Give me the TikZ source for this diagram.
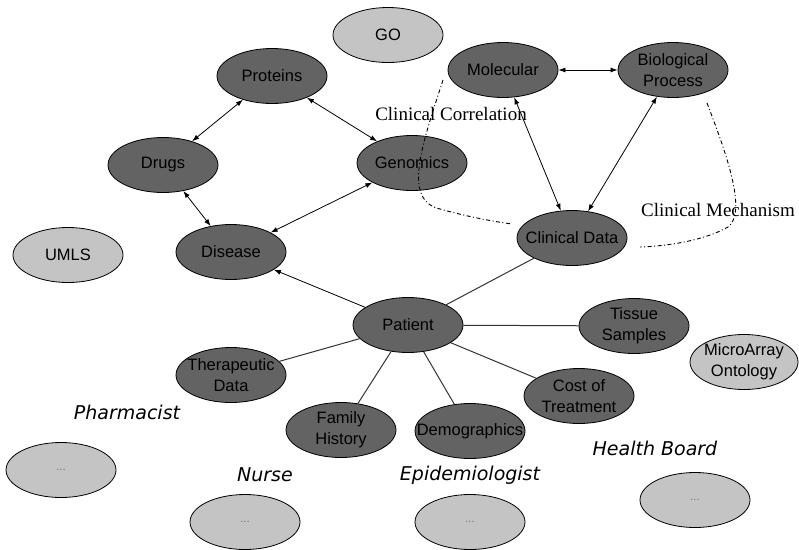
\documentclass[tikz,border=0pt]{standalone}
\usepackage{fontspec}
\setmainfont{Liberation Serif}
\newfontfamily\nodefont{Liberation Sans}
\newfontfamily\rolefont{DejaVu Sans}
\usetikzlibrary{arrows.meta,shapes.geometric}
\definecolor{colorDark}{HTML}{636363}
\definecolor{colorLight}{HTML}{C4C4C4}
\def\colorDark{colorDark}
\def\colorLight{colorLight}

\tikzset{
  concept/.style={ellipse, draw=black, line width=0.8pt, fill=\colorDark,
    minimum width=110pt, minimum height=55pt, inner xsep=-20pt, inner ysep=-12pt,
    align=center, font=\nodefont\fontsize{16.5pt}{21pt}\selectfont},
  ontology/.style={concept, fill=\colorLight},
  blank/.style={ontology, font=\nodefont\fontsize{11pt}{12pt}\selectfont, text=black!55},
  role/.style={font=\rolefont\itshape\fontsize{19pt}{22pt}\selectfont},
  relation/.style={font=\fontsize{19pt}{22pt}\selectfont},
  both/.style={line width=0.8pt, {Latex[length=7pt,width=5pt]}-{Latex[length=7pt,width=5pt]}},
  towards/.style={line width=0.8pt, -{Latex[length=7pt,width=5pt]}},
  plain/.style={line width=1pt, draw=black!80},
  boundary/.style={line width=0.9pt, dash pattern=on 4pt off 2.5pt on 1pt off 2.5pt},
}

\begin{document}
\begin{tikzpicture}[x=1pt, y=-1pt]
  \useasboundingbox (0,0) rectangle (799,549);

  % Ontologies
  \node[ontology] (go) at (388,35) {GO};
  \node[ontology] (umls) at (68,255) {UMLS};
  \node[ontology, minimum width=108pt] (microarray) at (744,362) {MicroArray\\Ontology};

  % Concepts
  \node[concept] (proteins) at (272,76) {Proteins};
  \node[concept] (drugs) at (163,165) {Drugs};
  \node[concept] (genomics) at (412,163) {Genomics};
  \node[concept] (disease) at (231,252) {Disease};
  \node[concept] (molecular) at (503,70) {Molecular};
  \node[concept] (bioprocess) at (673,70) {Biological\\Process};
  \node[concept] (clinical) at (572,238) {Clinical Data};
  \node[concept] (patient) at (408,325) {Patient};
  \node[concept] (tissue) at (634,326) {Tissue\\Samples};
  \node[concept] (therapeutic) at (231,375) {Therapeutic\\Data};
  \node[concept] (family) at (341,430) {Family\\History};
  \node[concept] (demographics) at (470,431) {Demographics};
  \node[concept] (cost) at (579,396) {Cost of\\Treatment};

  % Users
  \node[role] (pharmacist) at (127,412) {Pharmacist};
  \node[role] (nurse) at (265,475) {Nurse};
  \node[role] (epidemiologist) at (470,475) {Epidemiologist};
  \node[role] (healthboard) at (655,448) {Health Board};
  \node[blank] (pharmacistview) at (61,470) {...};
  \node[blank] (nurseview) at (245,522) {...};
  \node[blank] (epidemiologistview) at (470,522) {...};
  \node[blank] (healthboardview) at (695,500) {...};

  % Links
  \draw[both] (proteins) -- (drugs);
  \draw[both] (proteins) -- (genomics);
  \draw[both] (drugs) -- (disease);
  \draw[both] (genomics) -- (disease);
  \draw[both] (molecular) -- (bioprocess);
  \draw[both] (molecular) -- (clinical);
  \draw[both] (bioprocess) -- (clinical);
  \draw[towards] (patient) -- (disease);
  \draw[plain] (patient) -- (clinical);
  \draw[plain] (patient) -- (tissue);
  \draw[plain] (patient) -- (therapeutic);
  \draw[plain] (patient) -- (family);
  \draw[plain] (patient) -- (demographics);
  \draw[plain] (patient) -- (cost);

  % Correlation / mechanism
  \draw[boundary] (443,80) .. controls (422,145) and (402,200) .. (440,209)
    .. controls (465,216) and (490,221) .. (512,224);
  \draw[boundary] (707,103) .. controls (725,150) and (748,212) .. (728,227)
    .. controls (705,240) and (670,246) .. (640,247);
  \node[relation] (correlation) at (451,114) {Clinical Correlation};
  \node[relation] (mechanism) at (718,210) {Clinical Mechanism};
\end{tikzpicture}
\end{document}
